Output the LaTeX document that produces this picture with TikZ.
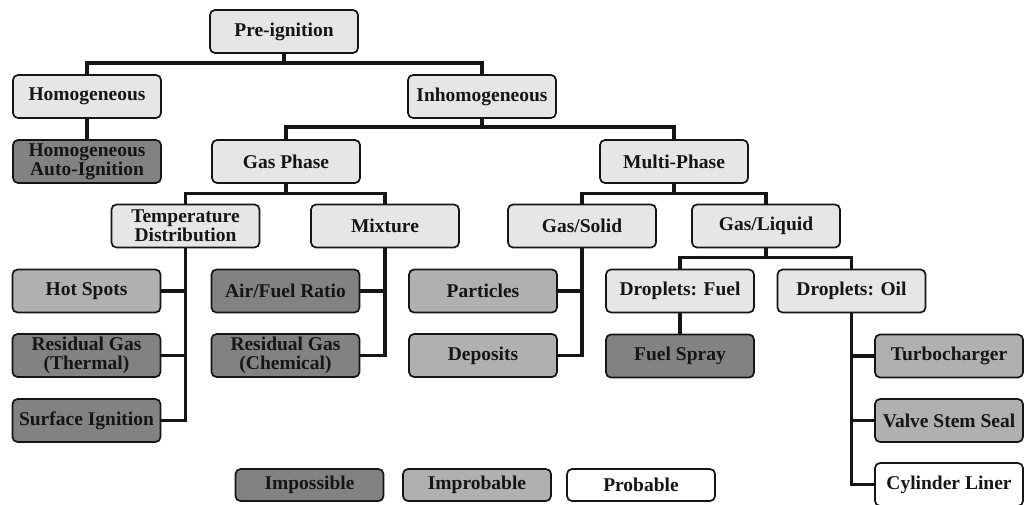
\documentclass[tikz,border=0pt]{standalone}
\usepackage{fontspec}
\setmainfont{Liberation Serif}
\definecolor{lite}{HTML}{E6E6E6}
\definecolor{improb}{HTML}{B0B0B0}
\definecolor{imposs}{HTML}{828282}
\definecolor{ink}{HTML}{151515}
\tikzset{
  box/.style={draw=ink, rounded corners=5pt, line width=1.7pt, minimum width=148pt,
    minimum height=43pt, inner sep=0pt, align=center,
    font=\bfseries\fontsize{19.5}{19}\selectfont, text=ink},
  lbox/.style={box, fill=lite},
  ibox/.style={box, fill=improb},
  xbox/.style={box, fill=imposs},
  pbox/.style={box, fill=white},
  legbox/.style={minimum height=32pt},
  conn/.style={draw=ink, line width=3.4pt}
}
\begin{document}
\begin{tikzpicture}[x=1pt, y=-1pt]
\useasboundingbox (0,0) rectangle (1032,504);
\fill[white] (0,0) rectangle (1032,504);
% level 0-1
\node[lbox] (pre) at (284,31.5) {Pre-ignition};
\node[lbox] (homog) at (87,96.5) {Homogeneous};
\node[lbox] (inh) at (482,96.5) {Inhomogeneous};
\node[xbox] (auto) at (87,161.5) {Homogeneous\\Auto-Ignition};
\node[lbox] (gas) at (286,161.5) {Gas Phase};
\node[lbox] (multi) at (674,161.5) {Multi-Phase};
% level 3
\node[lbox] (temp) at (185.5,226) {Temperature\\Distribution};
\node[lbox] (mix) at (385,226) {Mixture};
\node[lbox] (gs) at (582,226) {Gas/Solid};
\node[lbox] (gl) at (766,226) {Gas/Liquid};
% leaves
\node[ibox] (hot) at (86.5,291) {Hot Spots};
\node[xbox] (resT) at (86.5,355.5) {Residual Gas\\(Thermal)};
\node[xbox] (surf) at (86.5,420.5) {Surface Ignition};
\node[xbox] (afr) at (285.5,291) {Air/Fuel Ratio};
\node[xbox] (resC) at (285.5,355.5) {Residual Gas\\(Chemical)};
\node[ibox] (part) at (483,291) {Particles};
\node[ibox] (dep) at (483,355.5) {Deposits};
\node[lbox] (df) at (680,291) {Droplets: Fuel};
\node[lbox] (do) at (851.5,291) {Droplets: Oil};
\node[xbox] (spray) at (680,356) {Fuel Spray};
\node[ibox] (turbo) at (949,356) {Turbocharger};
\node[ibox] (valve) at (949,420.5) {Valve Stem Seal};
\node[pbox] (cyl) at (949,484.5) {Cylinder Liner};
% legend
\node[xbox, legbox] (lg1) at (309.5,485) {Impossible};
\node[ibox, legbox] (lg2) at (477,485) {Improbable};
\node[pbox, legbox] (lg3) at (641,485) {Probable};
% connectors
\draw[conn] (homog.north) -- ++(0,-11) -| (inh.north);
\draw[conn] (pre.south) -- ++(0,11);
\draw[conn] (homog) -- (auto);
\draw[conn] (gas.north) -- ++(0,-12) -| (multi.north);
\draw[conn] (inh.south) -- ++(0,10);
\draw[conn] (temp.north) -- ++(0,-10) -| (mix.north);
\draw[conn] (gas.south) -- ++(0,11);
\draw[conn] (gs.north) -- ++(0,-10) -| (gl.north);
\draw[conn] (multi.south) -- ++(0,11);
\draw[conn] (temp.south) |- (surf.east);
\draw[conn] (hot.east) -- (hot.east -| temp.south);
\draw[conn] (resT.east) -- (resT.east -| temp.south);
\draw[conn] (mix.south) |- (resC.east);
\draw[conn] (afr.east) -- (afr.east -| mix.south);
\draw[conn] (gs.south) |- (dep.east);
\draw[conn] (part.east) -- (part.east -| gs.south);
\draw[conn] (df.north) -- ++(0,-11) -| (do.north);
\draw[conn] (gl.south) -- ++(0,10);
\draw[conn] (df) -- (spray);
\draw[conn] (do.south) |- (cyl.west);
\draw[conn] (turbo.west) -- (turbo.west -| do.south);
\draw[conn] (valve.west) -- (valve.west -| do.south);
\end{tikzpicture}
\end{document}
